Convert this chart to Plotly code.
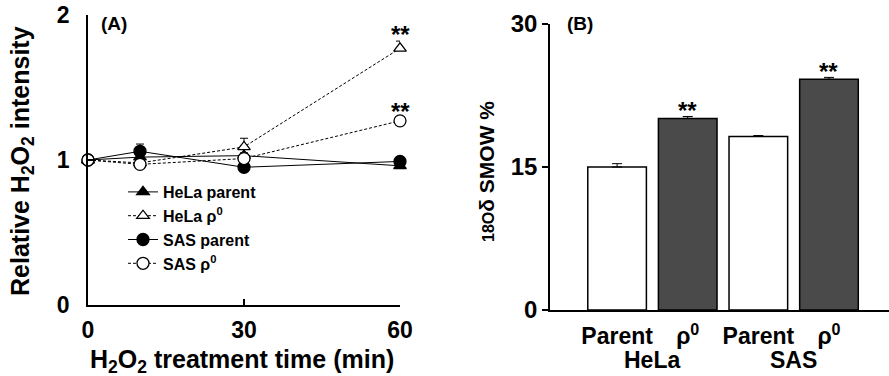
import plotly.graph_objects as go

# ---- Panel A data ----
time_min = [0, 10, 30, 60]
hela_parent = [1.0, 1.02, 1.03, 0.96]
hela_rho0 = [1.0, 0.98, 1.09, 1.77]
sas_parent = [1.0, 1.06, 0.95, 0.99]
sas_rho0 = [1.0, 0.97, 1.01, 1.27]
hela_parent_err = [0.01, 0.02, 0.02, 0.02]
hela_rho0_err = [0.01, 0.02, 0.06, 0.05]
sas_parent_err = [0.01, 0.05, 0.02, 0.01]
sas_rho0_err = [0.01, 0.02, 0.03, 0.02]
a_xticks = [0, 30, 60]
a_yticks = [0, 1, 2]

# ---- Panel B data ----
bar_pos = [0, 1, 2, 3]
bar_values = [15.0, 20.1, 18.2, 24.2]
bar_err = [0.35, 0.2, 0.1, 0.2]
bar_tick_text = ["Parent", "ρ<sup>0</sup>", "Parent", "ρ<sup>0</sup>"]
bar_colors = ["white", "#4a4a4a", "white", "#4a4a4a"]
group_labels = ["HeLa", "SAS"]
group_centers = [0.5, 2.5]
b_yticks = [0, 15, 30]
signif_bars = [1, 3]

FONT = "Liberation Sans, Arial, sans-serif"
fig = go.Figure()

series = [
    ("HeLa parent", hela_parent, hela_parent_err, "triangle-up", "black", "solid", 1),
    ("SAS parent", sas_parent, sas_parent_err, "circle", "black", "solid", 3),
    ("HeLa ρ<sup>0</sup>", hela_rho0, hela_rho0_err, "triangle-up", "white", "3px,2px", 2),
    ("SAS ρ<sup>0</sup>", sas_rho0, sas_rho0_err, "circle", "white", "3px,2px", 4),
]
for name, vals, err, sym, fill, dash, rank in series:
    fig.add_trace(go.Scatter(
        x=time_min, y=vals, name=name, mode="lines+markers",
        line=dict(color="black", width=1, dash=dash),
        marker=dict(symbol=sym, size=12 if sym == "circle" else 11, color=fill,
                    line=dict(color="black", width=1.3)),
        error_y=dict(type="data", array=err, arrayminus=[0] * len(err), symmetric=False,
                     color="black", thickness=1, width=4),
        legendrank=rank, cliponaxis=False, xaxis="x", yaxis="y",
    ))

fig.add_trace(go.Bar(
    x=bar_pos, y=bar_values, marker=dict(color=bar_colors, line=dict(color="black", width=1.5)),
    width=0.83, showlegend=False, xaxis="x2", yaxis="y2",
    error_y=dict(type="data", array=bar_err, arrayminus=[0] * len(bar_err), symmetric=False,
                 color="black", thickness=1, width=5),
))


def ann(x, y, text, size, xref="paper", yref="paper", **kw):
    d = dict(x=x, y=y, xref=xref, yref=yref, text=text, showarrow=False,
             xanchor="center", yanchor="middle", font=dict(size=size, family=FONT, color="black"))
    d.update(kw)
    return d


annotations = []
# stars panel A
for vals, err in [(hela_rho0, hela_rho0_err), (sas_rho0, sas_rho0_err)]:
    annotations.append(ann(time_min[-1], vals[-1] + err[-1], "<b>**</b>", 24, xref="x", yref="y",
                           yanchor="bottom", yshift=-9))
# stars panel B
for i in signif_bars:
    annotations.append(ann(bar_pos[i], bar_values[i] + bar_err[i], "<b>**</b>", 24, xref="x2", yref="y2",
                           yanchor="bottom", yshift=-10))
# group labels
for lab, c in zip(group_labels, group_centers):
    annotations.append(ann(c, 1 - 360 / 376, f"<b>{lab}</b>", 23, xref="x2"))
# panel letters
annotations.append(ann(99 / 889, 1 - 24 / 376, "<b>(A)</b>", 19, xanchor="left"))
annotations.append(ann(565 / 889, 1 - 24 / 376, "<b>(B)</b>", 19, xanchor="left"))
# axis titles
annotations.append(ann(22 / 889, 1 - 161 / 376, "<b>Relative H<sub>2</sub>O<sub>2</sub> intensity</b>", 25,
                       textangle=-90))
annotations.append(ann(242 / 889, 1 - 361 / 376, "<b>H<sub>2</sub>O<sub>2</sub> treatment time (min)</b>", 25))
annotations.append(ann(487 / 889, 1 - 172 / 376,
                       "<b><span style='font-size:16px'>18O</span>δ SMOW %</b>", 21, textangle=-90))

axis_common = dict(showgrid=False, zeroline=False, showline=True, linecolor="black", linewidth=1.5,
                   tickcolor="black", tickwidth=1.5, ticklen=6, automargin=False)

fig.update_layout(
    width=889, height=376, autosize=False,
    margin=dict(l=0, r=0, t=0, b=0, pad=0, autoexpand=False),
    paper_bgcolor="white", plot_bgcolor="white",
    font=dict(family=FONT, color="black"),
    showlegend=True,
    legend=dict(x=123 / 889, y=1 - 175 / 376, xanchor="left", yanchor="top",
                bgcolor="rgba(0,0,0,0)", itemwidth=30, tracegroupgap=0,
                font=dict(size=16, family=FONT, color="black", weight="bold")),
    xaxis=dict(domain=[88 / 889, 400 / 889], range=[0, 60], tickvals=a_xticks,
               ticks="inside", anchor="y", ticklabelstandoff=4,
               tickfont=dict(size=23, family=FONT, color="black", weight="bold"), **axis_common),
    yaxis=dict(domain=[1 - 305 / 376, 1 - 15 / 376], range=[0, 2], tickvals=a_yticks,
               ticks="inside", anchor="x", ticklabelstandoff=12,
               tickfont=dict(size=23, family=FONT, color="black", weight="bold"), **axis_common),
    xaxis2=dict(domain=[550 / 889, 1.0], range=[-0.95, 3.85], tickvals=bar_pos, ticktext=bar_tick_text,
                ticks="", anchor="y2", ticklabelstandoff=5,
                tickfont=dict(size=23, family=FONT, color="black", weight="bold"), **axis_common),
    yaxis2=dict(domain=[1 - 310 / 376, 1 - 24 / 376], range=[0, 30], tickvals=b_yticks,
                ticks="outside", anchor="x2",
                tickfont=dict(size=24, family=FONT, color="black", weight="bold"), **axis_common),
    annotations=annotations,
)

fig.write_html("out.html", config={"displayModeBar": False},
               post_script="document.body.style.margin='0px';document.body.style.overflow='hidden';")
